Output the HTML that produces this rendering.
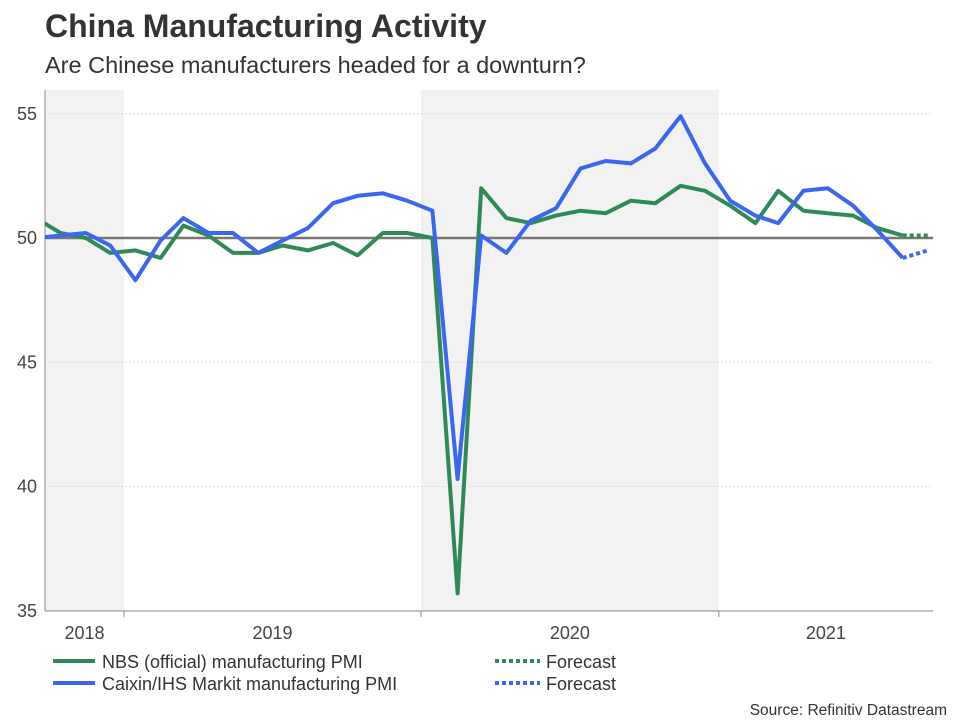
<!DOCTYPE html>
<html><head><meta charset="utf-8"><style>
body{margin:0;background:#fff;font-family:"Liberation Sans",Arial,sans-serif;}
svg{display:block}
</style></head><body>
<svg width="960" height="720">
<text x="45" y="37" font-size="32" font-weight="bold" fill="#333">China Manufacturing Activity</text>
<text x="45" y="73" font-size="23.5" fill="#333">Are Chinese manufacturers headed for a downturn?</text>
<g id="plot"></g>
<g>
<line x1="53" y1="661" x2="95" y2="661" stroke="#2e8b57" stroke-width="4"/>
<text x="102" y="668" font-size="18" fill="#333">NBS (official) manufacturing PMI</text>
<line x1="53" y1="683" x2="95" y2="683" stroke="#3a66f0" stroke-width="4"/>
<text x="102" y="690" font-size="18" fill="#333">Caixin/IHS Markit manufacturing PMI</text>
<line x1="495" y1="661" x2="540" y2="661" stroke="#2e8b57" stroke-width="4" stroke-dasharray="4,3"/>
<text x="546" y="668" font-size="18" fill="#333">Forecast</text>
<line x1="495" y1="683" x2="540" y2="683" stroke="#3a66f0" stroke-width="4" stroke-dasharray="4,3"/>
<text x="546" y="690" font-size="18" fill="#333">Forecast</text>
</g>
<text x="947" y="715" font-size="15.5" fill="#333" text-anchor="end">Source: Refinitiv Datastream</text>
</svg>
<script>
const months = ["2018-09","2018-10","2018-11","2018-12","2019-01","2019-02","2019-03","2019-04","2019-05","2019-06","2019-07","2019-08","2019-09","2019-10","2019-11","2019-12","2020-01","2020-02","2020-03","2020-04","2020-05","2020-06","2020-07","2020-08","2020-09","2020-10","2020-11","2020-12","2021-01","2021-02","2021-03","2021-04","2021-05","2021-06","2021-07","2021-08"];
const nbs = [50.8,50.2,50.0,49.4,49.5,49.2,50.5,50.1,49.4,49.4,49.7,49.5,49.8,49.3,50.2,50.2,50.0,35.7,52.0,50.8,50.6,50.9,51.1,51.0,51.5,51.4,52.1,51.9,51.3,50.6,51.9,51.1,51.0,50.9,50.4,50.1];
const caixin = [50.0,50.1,50.2,49.7,48.3,49.9,50.8,50.2,50.2,49.4,49.9,50.4,51.4,51.7,51.8,51.5,51.1,40.3,50.1,49.4,50.7,51.2,52.8,53.1,53.0,53.6,54.9,53.0,51.5,50.9,50.6,51.9,52.0,51.3,50.3,49.2];
const forecastMonths = ["2021-08","2021-09"];
const nbsForecast = [50.1,50.1];
const caixinForecast = [49.2,49.5];
const yTicks = [35,40,45,50,55];
const years = ["2018","2019","2020","2021"];

const NS="http://www.w3.org/2000/svg";
const plot=document.getElementById('plot');
const L=45,R=933,T=90,B=611;
const base=Date.UTC(2019,0,1);
function xDate(d){return 124+(d-base)/86400000*297/365;}
function xMonth(m){const [y,mo]=m.split('-').map(Number);return xDate(Date.UTC(y,mo-1,15));}
function y(v){return 238-(v-50)*24.85;}
function el(tag,attrs,parent){const e=document.createElementNS(NS,tag);for(const k in attrs)e.setAttribute(k,attrs[k]);(parent||plot).appendChild(e);return e;}

const defs=el('defs',{});
const cp=el('clipPath',{id:'clip'},defs);
el('rect',{x:L,y:T,width:R-L,height:B-T},cp);

let s1=el('rect',{x:L,y:T,width:xDate(Date.UTC(2019,0,1))-L,height:B-T,fill:'#f2f2f2'});


let x20=xDate(Date.UTC(2020,0,1)),x21=xDate(Date.UTC(2021,0,1));
let s2=el('rect',{x:x20,y:T,width:x21-x20,height:B-T,fill:'#f2f2f2'});



yTicks.forEach(v=>{
  if(v!==50){const g=el('line',{x1:L,x2:R,y1:y(v),y2:y(v),stroke:'#ddd','stroke-dasharray':'2,2'});
  
  }
  const t=el('text',{x:L-8,y:y(v)+6,'font-size':18,fill:'#444','text-anchor':'end'});t.textContent=v;
  
  
});
el('line',{x1:L,x2:L,y1:T,y2:B,stroke:'#888'});
el('line',{x1:L,x2:R,y1:B,y2:B,stroke:'#888'});

const yrStart=[Date.UTC(2018,0,1),Date.UTC(2019,0,1),Date.UTC(2020,0,1),Date.UTC(2021,0,1),Date.UTC(2022,0,1)];
years.forEach((yr,i)=>{
  const a=Math.max(L,xDate(yrStart[i])),b=Math.min(R,xDate(yrStart[i+1]));
  const t=el('text',{x:(a+b)/2,y:639,'font-size':18,fill:'#444','text-anchor':'middle'});t.textContent=yr;
  
  
  if(i>0){el('line',{x1:xDate(yrStart[i]),x2:xDate(yrStart[i]),y1:B,y2:B+6,stroke:'#888'});}
});

function line(ms,vals,color,dash,name){
  const p=ms.map((m,i)=>xMonth(m).toFixed(1)+','+y(vals[i]).toFixed(1)).join(' ');
  const a={points:p,fill:'none',stroke:color,'stroke-width':4,'stroke-linejoin':'round','clip-path':'url(#clip)'};
  if(dash)a['stroke-dasharray']='4,3';
  const e=el('polyline',a);
  
  
}
const ref=el('line',{x1:L,x2:R,y1:y(50),y2:y(50),stroke:'#777','stroke-width':2.5});


line(months,nbs,'#2e8b57',false,'nbs-line');
line(months,caixin,'#3a66f0',false,'caixin-line');
line(forecastMonths,nbsForecast,'#2e8b57',true,'nbs-forecast-line');
line(forecastMonths,caixinForecast,'#3a66f0',true,'caixin-forecast-line');
</script>
</body></html>
